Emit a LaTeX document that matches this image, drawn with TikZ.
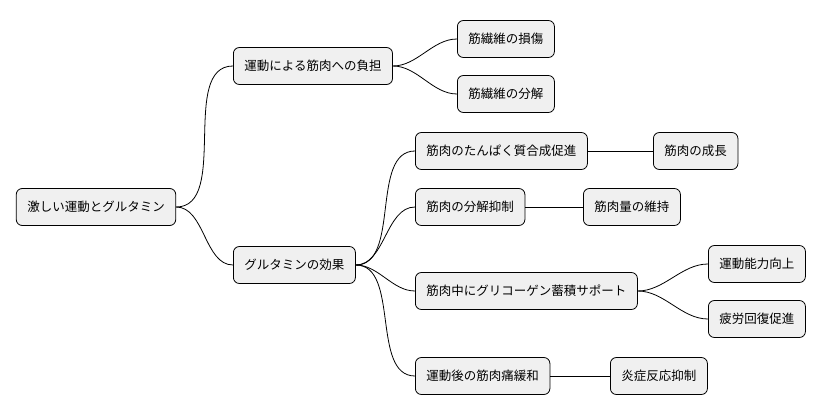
\documentclass[tikz,border=0pt]{standalone}
\usepackage{fontspec}
\setmainfont{Noto Sans CJK JP}
\usetikzlibrary{positioning}

\begin{document}
\begin{tikzpicture}[x=1pt, y=-1pt, node/.style={rectangle, rounded corners=6pt, draw=black, fill=black!6, thick, minimum height=37pt, inner xsep=11pt, font=\fontsize{12.5}{14}\selectfont}, link/.style={thick, out=0, in=180, looseness=0.9}]
    \useasboundingbox (0,0) rectangle (824,415);

    %Nodes
    \node[node](root) at (96,207){激しい運動とグルタミン};
    \node[node, anchor=west](load) at (233,66){運動による筋肉への負担};
    \node[node, anchor=west](effect) at (233,265){グルタミンの効果};
    \node[node, anchor=west](damage) at (457,39){筋繊維の損傷};
    \node[node, anchor=west](breakdown) at (457,94){筋繊維の分解};
    \node[node, anchor=west](synth) at (415,151){筋肉のたんぱく質合成促進};
    \node[node, anchor=west](growth) at (653,151){筋肉の成長};
    \node[node, anchor=west](suppress) at (415,207){筋肉の分解抑制};
    \node[node, anchor=west](keep) at (583,207){筋肉量の維持};
    \node[node, anchor=west](glycogen) at (415,291){筋肉中にグリコーゲン蓄積サポート};
    \node[node, anchor=west](perform) at (708,264){運動能力向上};
    \node[node, anchor=west](recover) at (708,319){疲労回復促進};
    \node[node, anchor=west](sore) at (415,376){運動後の筋肉痛緩和};
    \node[node, anchor=west](inflam) at (610,376){炎症反応抑制};

    %Lines
    \draw[link] (root.east) to (load.west);
    \draw[link] (root.east) to (effect.west);
    \draw[link] (load.east) to (damage.west);
    \draw[link] (load.east) to (breakdown.west);
    \draw[link] (effect.east) to (synth.west);
    \draw[link] (effect.east) to (suppress.west);
    \draw[link] (effect.east) to (glycogen.west);
    \draw[link] (effect.east) to (sore.west);
    \draw[thick] (synth.east) -- (growth.west);
    \draw[thick] (suppress.east) -- (keep.west);
    \draw[link] (glycogen.east) to (perform.west);
    \draw[link] (glycogen.east) to (recover.west);
    \draw[thick] (sore.east) -- (inflam.west);

\end{tikzpicture}
\end{document}
